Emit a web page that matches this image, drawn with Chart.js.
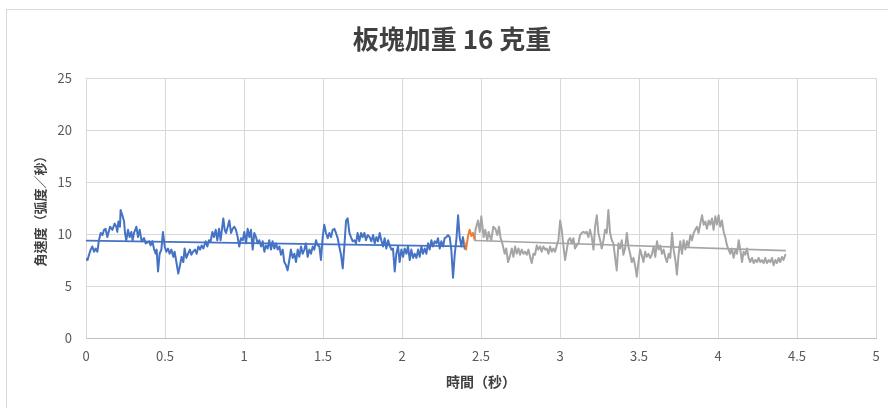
<!DOCTYPE html>
<html>
<head>
<meta charset="utf-8">
<script src="https://cdn.jsdelivr.net/npm/chart.js@4.4.1/dist/chart.umd.min.js"></script>
<style>
  body { margin: 0; background: #fff; overflow: hidden; }
  #frame { position: absolute; left: 6px; top: 9px; width: 900px; height: 420px; border: 1px solid #d9d9d9; }
  #wrap { position: absolute; left: 0; top: 0; width: 904px; height: 408px; }
</style>
</head>
<body>
<div id="frame"></div>
<div id="wrap"><canvas id="chart" width="904" height="408"></canvas></div>
<script>
// time (s) and angular speed (rad/s)
const blueT = [0.000, 0.010, 0.019, 0.030, 0.040, 0.051, 0.061, 0.072, 0.082, 0.093, 0.104, 0.114, 0.124, 0.135,
  0.152, 0.167, 0.181, 0.192, 0.198, 0.205, 0.215, 0.219, 0.230, 0.241, 0.247, 0.255, 0.266, 0.276, 0.287, 0.295,
  0.304, 0.319, 0.329, 0.340, 0.352, 0.367, 0.378, 0.399, 0.409, 0.420, 0.430, 0.441, 0.447, 0.456, 0.466, 0.477,
  0.487, 0.498, 0.508, 0.519, 0.529, 0.540, 0.553, 0.561, 0.572, 0.584, 0.595, 0.605, 0.616, 0.624, 0.635, 0.646,
  0.658, 0.667, 0.677, 0.690, 0.700, 0.711, 0.722, 0.732, 0.743, 0.757, 0.768, 0.778, 0.789, 0.800, 0.810, 0.821,
  0.831, 0.842, 0.852, 0.869, 0.878,
  0.886, 0.897, 0.907, 0.918, 0.928, 0.939, 0.949, 0.960, 0.970, 0.981, 0.992, 1.002, 1.013, 1.023, 1.034, 1.044,
  1.055, 1.065, 1.076, 1.086, 1.097, 1.108, 1.118, 1.129, 1.139, 1.150, 1.160, 1.171, 1.181, 1.192, 1.203, 1.213,
  1.224, 1.234, 1.245, 1.255, 1.266, 1.276, 1.287, 1.297, 1.308, 1.319, 1.329, 1.340, 1.350, 1.361, 1.371, 1.382,
  1.392, 1.403, 1.414, 1.424, 1.435, 1.445, 1.456, 1.466, 1.477, 1.487, 1.498, 1.508, 1.519, 1.530, 1.540, 1.551,
  1.561, 1.572, 1.582, 1.593, 1.603, 1.614, 1.625, 1.635, 1.646, 1.656, 1.667, 1.677, 1.688, 1.698, 1.709, 1.719,
  1.730, 1.741, 1.751, 1.762, 1.772, 1.783,
  1.795, 1.806, 1.817, 1.827, 1.838, 1.848, 1.859, 1.869, 1.880, 1.890, 1.901, 1.912, 1.922, 1.933, 1.943, 1.954,
  1.964, 1.975, 1.985, 1.996, 2.007, 2.017, 2.028, 2.038, 2.049, 2.059, 2.070, 2.080, 2.091, 2.102, 2.112, 2.123,
  2.133, 2.144, 2.154, 2.165, 2.175, 2.186, 2.196, 2.207, 2.218, 2.228, 2.239, 2.249, 2.260, 2.270, 2.281, 2.291,
  2.302, 2.312, 2.323, 2.334, 2.344, 2.355, 2.365, 2.376, 2.386, 2.397];
const blueV = [7.6, 7.5, 8.0, 8.5, 8.8, 8.3, 8.6, 8.3, 9.4, 10.1, 9.9, 10.4, 10.5, 9.7,
  10.7, 10.4, 11.0, 10.7, 10.2, 11.2, 10.7, 12.3, 11.8, 11.2, 10.1, 9.4, 10.4, 9.7, 10.2, 9.4,
  10.1, 10.7, 9.7, 10.4, 9.3, 9.6, 9.1, 9.3, 8.9, 9.3, 8.6, 8.1, 8.5, 6.4, 8.1, 8.5,
  10.2, 8.8, 8.3, 8.6, 8.1, 8.5, 7.8, 8.3, 7.3, 6.2, 7.0, 7.8, 7.3, 8.6, 7.7, 8.1,
  8.5, 8.0, 8.3, 8.5, 8.1, 8.8, 8.5, 8.9, 8.6, 9.3, 8.8, 9.4, 9.3, 10.2, 9.7, 10.4,
  9.4, 10.5, 9.4, 11.5, 10.4,
  10.1, 10.7, 11.3, 10.1, 10.5, 10.7, 10.4, 9.7, 8.8, 9.6, 9.4, 10.2, 9.1, 10.5, 9.7, 10.4,
  8.5, 10.1, 9.7, 9.1, 9.4, 8.8, 9.3, 8.3, 8.9, 8.6, 9.4, 8.5, 9.3, 8.6, 9.1, 8.5,
  8.8, 8.0, 8.5, 7.3, 7.0, 6.5, 7.5, 8.5, 7.7, 8.1, 7.3, 8.5, 7.8, 8.8, 8.1, 8.5,
  9.1, 7.8, 8.5, 8.1, 8.8, 8.5, 9.4, 8.9, 8.8, 7.5, 9.7, 10.9, 10.1, 9.6, 10.1, 9.7,
  10.4, 10.5, 10.1, 9.6, 8.8, 8.0, 6.7, 8.8, 11.3, 11.5, 10.1, 9.7, 9.3, 9.4, 9.1, 10.1,
  9.3, 10.1, 9.7, 10.1, 9.4, 9.9,
  9.7, 9.3, 9.9, 9.1, 9.7, 9.3, 10.1, 9.4, 8.8, 9.6, 8.6, 9.4, 8.9, 8.5, 8.6, 6.4,
  8.1, 8.8, 7.3, 8.5, 7.8, 8.6, 8.1, 8.8, 7.5, 8.5, 7.7, 8.1, 7.7, 8.5, 7.8, 8.8,
  8.1, 8.6, 8.1, 9.1, 8.5, 9.4, 8.8, 9.3, 9.1, 9.6, 8.6, 9.3, 8.8, 9.6, 9.7, 9.9,
  9.7, 8.5, 5.8, 8.1, 9.4, 11.8, 9.7, 8.8, 9.7, 8.6];

const orangeT = [2.397, 2.405, 2.418, 2.428, 2.439, 2.449, 2.460];
const orangeV = [9.1, 8.5, 9.8, 10.4, 9.8, 10.1, 9.5];

const grayT = [2.460, 2.465, 2.481, 2.492, 2.502, 2.517, 2.527, 2.540, 2.548, 2.565, 2.578, 2.591, 2.603, 2.614,
  2.624, 2.635, 2.650, 2.660, 2.671, 2.682,
  2.695, 2.705, 2.716, 2.726, 2.737, 2.747, 2.758, 2.768, 2.779, 2.790, 2.800, 2.811, 2.821, 2.832, 2.842, 2.853,
  2.863, 2.874, 2.884, 2.895, 2.906, 2.916, 2.927, 2.937, 2.948, 2.958, 2.969, 2.979, 2.990, 3.001, 3.011, 3.022,
  3.032, 3.043, 3.053, 3.064, 3.074, 3.085, 3.095, 3.106, 3.117, 3.127, 3.138, 3.148, 3.159, 3.169, 3.180, 3.190,
  3.201, 3.212, 3.222, 3.233, 3.243, 3.254, 3.264, 3.275, 3.285, 3.296, 3.306, 3.317, 3.328, 3.338, 3.349, 3.359,
  3.370, 3.380, 3.391, 3.401, 3.412, 3.423, 3.433, 3.444, 3.454, 3.465, 3.475, 3.486, 3.496, 3.507, 3.517, 3.528,
  3.539, 3.549, 3.560, 3.570, 3.581,
  3.593, 3.603, 3.614, 3.624, 3.635, 3.645, 3.656, 3.666, 3.677, 3.688, 3.698, 3.709, 3.719, 3.730, 3.740, 3.751,
  3.761, 3.772, 3.782, 3.793, 3.804, 3.814, 3.825, 3.835, 3.846, 3.856, 3.867, 3.877, 3.888, 3.899, 3.909, 3.920,
  3.930, 3.941, 3.951, 3.962, 3.972, 3.983, 3.993, 4.004, 4.014, 4.025, 4.036, 4.046, 4.057, 4.067, 4.078, 4.088,
  4.099, 4.110, 4.120, 4.131, 4.141, 4.152, 4.162, 4.173, 4.183, 4.194, 4.204, 4.215, 4.226, 4.236, 4.247, 4.257,
  4.268, 4.278, 4.289, 4.299, 4.310, 4.321, 4.331, 4.342, 4.352, 4.363, 4.373, 4.384, 4.394, 4.405, 4.415, 4.426];
const grayV = [9.5, 10.4, 11.3, 10.2, 11.7, 9.7, 10.4, 9.4, 10.2, 9.4, 10.7, 10.5, 9.9, 10.7,
  9.6, 9.1, 8.1, 8.6, 7.3, 7.8,
  8.6, 7.8, 8.8, 8.1, 8.6, 8.0, 8.5, 8.1, 8.3, 8.0, 8.5, 7.8, 7.2, 8.1, 8.0, 8.9,
  8.5, 8.8, 8.3, 8.8, 8.5, 8.6, 8.1, 8.8, 8.3, 8.6, 8.3, 8.9, 9.4, 11.3, 10.4, 8.8,
  7.5, 8.5, 9.4, 9.6, 9.1, 9.6, 8.6, 8.9, 9.1, 9.9, 10.1, 10.2, 10.1, 10.2, 9.7, 10.4,
  9.7, 8.5, 10.7, 11.8, 10.1, 9.4, 8.6, 9.4, 10.4, 10.1, 12.3, 10.1, 9.4, 9.1, 7.7, 6.5,
  9.1, 8.6, 9.4, 8.0, 8.6, 10.1, 8.8, 8.1, 7.3, 7.7, 7.0, 5.9, 7.2, 8.5, 8.0, 7.3,
  8.3, 7.8, 8.1, 7.7, 8.0,
  8.8, 7.8, 9.3, 8.5, 8.9, 8.1, 8.5, 7.8, 7.3, 8.1, 7.7, 10.1, 8.5, 7.5, 6.1, 8.1,
  9.3, 8.1, 9.4, 8.5, 9.3, 8.8, 9.9, 9.4, 10.1, 10.4, 10.7, 10.1, 11.0, 11.8, 10.9, 11.2,
  10.5, 11.3, 10.9, 11.5, 10.4, 11.7, 10.9, 11.8, 10.7, 11.3, 10.2, 9.7, 8.9, 8.5, 8.1, 8.6,
  7.7, 8.5, 8.1, 9.4, 8.5, 7.3, 8.3, 8.0, 8.6, 7.7, 7.3, 7.7, 7.2, 7.5, 7.3, 7.7,
  7.3, 7.5, 7.2, 7.7, 7.2, 7.5, 7.3, 7.7, 7.0, 7.5, 7.2, 7.7, 7.3, 7.8, 7.5, 8.0];

const xTicks = [0, 0.5, 1, 1.5, 2, 2.5, 3, 3.5, 4, 4.5, 5];
const yTicks = [0, 5, 10, 15, 20, 25];

const font = "'Noto Sans CJK TC', 'Noto Sans', sans-serif";
const textColor = "#595959";
const gridColor = "#d9d9d9";

function points(ts, vs) {
  const n = Math.min(ts.length, vs.length);
  const out = [];
  for (let i = 0; i < n; i++) out.push({ x: ts[i], y: vs[i] });
  return out;
}

// linear trendline (least squares), like Excel's
function trend(ts, vs) {
  const n = Math.min(ts.length, vs.length);
  let sx = 0, sy = 0, sxx = 0, sxy = 0;
  for (let i = 0; i < n; i++) {
    sx += ts[i]; sy += vs[i]; sxx += ts[i] * ts[i]; sxy += ts[i] * vs[i];
  }
  const b = (n * sxy - sx * sy) / (n * sxx - sx * sx);
  const a = (sy - b * sx) / n;
  return [{ x: ts[0], y: a + b * ts[0] }, { x: ts[n - 1], y: a + b * ts[n - 1] }];
}

const ctx = document.getElementById("chart").getContext("2d");

new Chart(ctx, {
  type: "scatter",
  data: {
    datasets: [
      { data: trend(blueT, blueV), borderColor: "#4472C4", borderWidth: 1.6 },
      { data: trend(grayT, grayV), borderColor: "#A5A5A5", borderWidth: 1.6 },
      { data: points(orangeT, orangeV), borderColor: "#ED7D31", borderWidth: 2 },
      { data: points(blueT, blueV), borderColor: "#4472C4", borderWidth: 2 },
      { data: points(grayT, grayV), borderColor: "#A5A5A5", borderWidth: 2 }
    ]
  },
  options: {
    responsive: false,
    animation: false,
    showLine: true,
    elements: {
      point: { radius: 0, hoverRadius: 0 },
      line: { tension: 0, fill: false, borderJoinStyle: "round", borderCapStyle: "round" }
    },
    layout: { padding: { left: 28, right: 28, top: 0, bottom: 0 } },
    plugins: {
      legend: { display: false },
      tooltip: { enabled: false },
      title: {
        display: true,
        text: "板塊加重 16 克重",
        color: "#404040",
        font: { family: font, size: 26, weight: "bold" },
        padding: { top: 24, bottom: 22.8 }
      }
    },
    scales: {
      x: {
        type: "linear",
        min: 0,
        max: 5,
        afterBuildTicks: s => { s.ticks = xTicks.map(v => ({ value: v })); },
        afterFit: s => { s.height = 70; s.paddingLeft = 0; s.paddingRight = 0; },
        ticks: {
          color: textColor,
          font: { family: font, size: 13 },
          padding: 10,
          maxRotation: 0,
          callback: v => String(v)
        },
        grid: { color: gridColor, drawTicks: false },
        border: { color: "#bfbfbf" },
        title: {
          display: true,
          text: "時間（秒）",
          color: "#404040",
          font: { family: font, size: 14, weight: "bold" },
          padding: { top: 0, bottom: 18 }
        }
      },
      y: {
        min: 0,
        max: 25,
        afterBuildTicks: s => { s.ticks = yTicks.map(v => ({ value: v })); },
        afterFit: s => { s.width = 58; },
        ticks: {
          color: textColor,
          font: { family: font, size: 13 },
          padding: 14
        },
        grid: { color: gridColor, drawTicks: false },
        border: { color: "#d9d9d9" },
        title: {
          display: true,
          text: "角速度（弧度／秒）",
          color: "#404040",
          font: { family: font, size: 13, weight: "bold" },
          padding: { top: 4, bottom: 0 }
        }
      }
    }
  }
});
</script>
</body>
</html>
